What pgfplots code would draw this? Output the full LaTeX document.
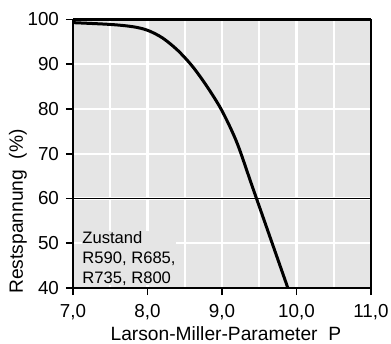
\documentclass[border=0pt]{standalone}
\usepackage{fontspec}
\setmainfont{Liberation Sans}
\usepackage{pgfplots}
\pgfplotsset{compat=1.18}
\definecolor{bggray}{RGB}{229,229,229}
\begin{document}
\begin{tikzpicture}
\path[use as bounding box] (-36.5pt,-27.5pt) rectangle (159pt,144pt);
\begin{axis}[
  scale only axis,
  width=149pt, height=134.25pt,
  xmin=7, xmax=11, ymin=40, ymax=100,
  clip=false,
  axis background/.style={fill=bggray},
  axis line style={black, line width=1pt},
  xtick={7,8,9,10,11},
  minor xtick={7.5,8.5,9.5,10.5},
  ytick={40,50,60,70,80,90,100},
  tick align=outside,
  tick pos=left,
  major tick length=3.5pt,
  minor tick length=0pt,
  tick style={black, line width=0.8pt},
  grid=both,
  major grid style={white, line width=1.2pt},
  minor grid style={white, line width=1.2pt},
  /pgf/number format/assume math mode=true,
  x tick label style={yshift=-1.2pt, font=\fontsize{9.4}{11}\selectfont, /pgf/number format/use comma, /pgf/number format/fixed, /pgf/number format/fixed zerofill, /pgf/number format/precision=1},
  y tick label style={font=\fontsize{9.4}{11}\selectfont, /pgf/number format/fixed, /pgf/number format/precision=0},
  xlabel={Larson-Miller-Parameter\ \ P},
  ylabel={Restspannung\ \ (\%)},
  xlabel style={font=\fontsize{9.6}{11}\selectfont, at={(axis description cs:0.513,0)}, anchor=base, yshift=-26pt},
  ylabel style={font=\fontsize{9.6}{11}\selectfont, at={([xshift=-25pt]axis description cs:0,0.285)}, anchor=base},
]
\addplot[black, line width=0.5pt] coordinates {(7,60) (11,60)};
\addplot[black, line width=1.5pt] coordinates {(7,100) (11,100)};
\addplot[black, line width=1.5pt, smooth] coordinates {
(7.0,99.3) (7.5,98.9) (7.8,98.4) (8.0,97.6) (8.2,95.9) (8.4,93.2)
(8.6,89.6) (8.8,85.0) (9.0,79.6) (9.2,72.5) (9.4,63.0) (9.6,53.5) (9.884,40)};
\node[anchor=south west, fill=bggray, inner sep=0pt, align=left, xshift=4.5pt, yshift=1.2pt,
  font=\fontsize{8.3}{10}\selectfont] at (axis cs:7,40)
  {Zustand\\R590, R685,\\R735, R800};
\end{axis}
\end{tikzpicture}
\end{document}
